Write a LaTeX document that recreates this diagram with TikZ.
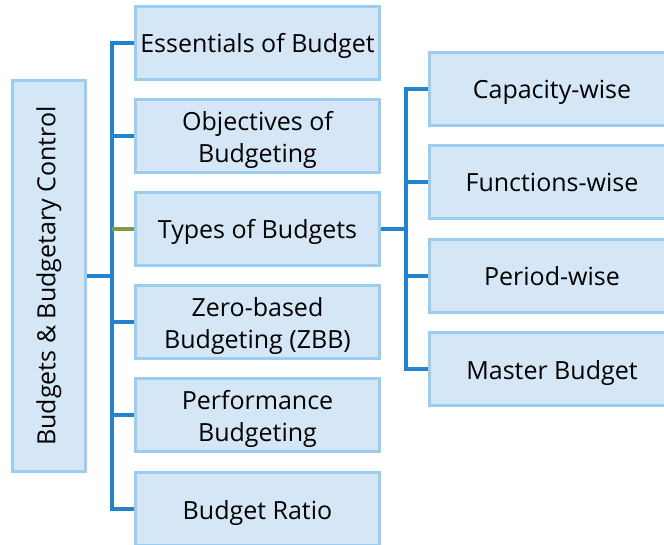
\documentclass[tikz,border=0pt]{standalone}
\usepackage{fontspec}
\setmainfont{Open Sans}
\definecolor{boxfill}{HTML}{D5E7F6}
\definecolor{boxline}{HTML}{9BCDF0}
\definecolor{linkblue}{HTML}{2383CB}
\definecolor{linkgreen}{HTML}{7F9A48}
% two centred lines, baseline on the first one, with no height of its own
\newcommand\twoline[2]{\smash{\begin{tabular}[t]{@{}c@{}}#1\\#2\end{tabular}}}
\tikzset{
  box/.style={draw=boxline, fill=boxfill, line width=3pt, rectangle,
    inner sep=0pt, align=center, font=\fontsize{25}{32}\selectfont},
  midbox/.style={box, minimum width=244pt, minimum height=73pt},
  rightbox/.style={box, minimum width=245pt, minimum height=73pt},
  oneline/.style={text height=20pt, text depth=0pt},
  twolines/.style={text height=0pt, text depth=11pt},
  link/.style={draw=linkblue, line width=4pt, line join=miter},
  greenlink/.style={link, draw=linkgreen}
}
\begin{document}
\begin{tikzpicture}[x=1pt, y=-1pt]
\useasboundingbox (0,0) rectangle (664,545);
\clip (0,0) rectangle (664,545);

% root
\node[box, minimum width=73pt, minimum height=391pt] (root) at (49,276)
  {\rotatebox{90}{Budgets \& Budgetary Control}};

% middle column
\node[midbox, oneline]  (b1) at (257.5,43)  {Essentials of Budget};
\node[midbox, twolines] (b2) at (257.5,136) {\twoline{Objectives of}{Budgeting}};
\node[midbox, oneline]  (b3) at (257.5,229) {Types of Budgets};
\node[midbox, twolines] (b4) at (257.5,322) {\twoline{Zero-based}{Budgeting (ZBB)}};
\node[midbox, twolines] (b5) at (257.5,415) {\twoline{Performance}{Budgeting}};
\node[midbox, oneline]  (b6) at (257.5,509) {Budget Ratio};

% right column
\node[rightbox, oneline] (r1) at (552,89)  {Capacity-wise};
\node[rightbox, oneline] (r2) at (552,182) {Functions-wise};
\node[rightbox, oneline] (r3) at (552,276) {Period-wise};
\node[rightbox, oneline] (r4) at (552,369) {Master Budget};

% trunk from the root
\coordinate (trunk) at (112,276);
\draw[link] (root.east) -- (trunk);
\draw[link] (b1.west) -| (trunk) |- (b6.west);
\draw[link] (b2.west) -- (b2.west -| trunk);
\draw[link] (b4.west) -- (b4.west -| trunk);
\draw[link] (b5.west) -- (b5.west -| trunk);
\draw[greenlink] (b3.west) -- (b3.west -| trunk);

% hub for the types of budgets
\coordinate (hub) at (405.5,229);
\draw[link] (b3.east) -- (hub);
\draw[link] (r1.west) -| (hub) |- (r4.west);
\draw[link] (r2.west) -- (r2.west -| hub);
\draw[link] (r3.west) -- (r3.west -| hub);
\end{tikzpicture}
\end{document}
